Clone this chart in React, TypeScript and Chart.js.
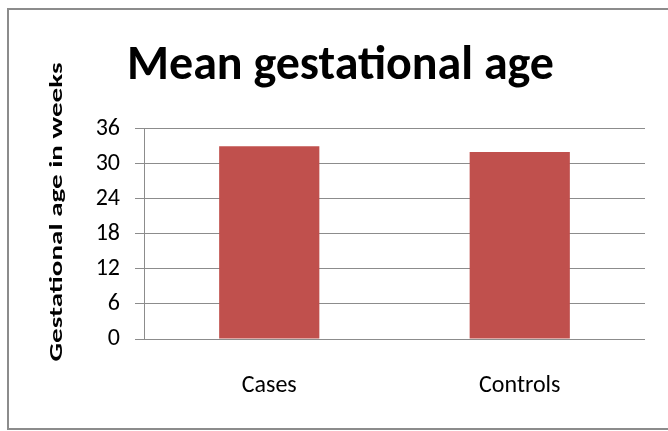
import React, { useEffect, useRef } from "react";
import { Chart, registerables } from "chart.js";

Chart.register(...registerables);

const categories = ["Cases", "Controls"];
const meanWeeks = [33, 32];
const yTicks = [0, 6, 12, 18, 24, 30, 36];
const chartTitle = "Mean gestational age";
const yAxisTitle = "Gestational age in weeks";

const FONT = "Carlito, Calibri, Lato, sans-serif";

const framePlugin = {
  id: "frame",
  beforeDraw(chart: any) {
    const ctx = chart.ctx;
    ctx.save();
    ctx.fillStyle = "#ffffff";
    ctx.fillRect(0, 0, chart.width, chart.height);
    ctx.strokeStyle = "#8c8c8c";
    ctx.lineWidth = 2;
    ctx.beginPath();
    ctx.moveTo(668, 9);
    ctx.lineTo(8, 9);
    ctx.lineTo(8, 429);
    ctx.lineTo(668, 429);
    ctx.stroke();
    ctx.restore();
  },
};

const yTitlePlugin = {
  id: "yTitle",
  afterDraw(chart: any) {
    const ctx = chart.ctx;
    ctx.save();
    ctx.font = `bold 19px ${FONT}`;
    const w = ctx.measureText(yAxisTitle).width || 1;
    ctx.translate(57, 212);
    ctx.rotate(-Math.PI / 2);
    ctx.scale(299 / w, 1);
    ctx.fillStyle = "#000000";
    ctx.textAlign = "center";
    ctx.textBaseline = "middle";
    ctx.fillText(yAxisTitle, 0, 0);
    ctx.restore();
  },
};

export default function App() {
  const ref = useRef<HTMLCanvasElement | null>(null);

  useEffect(() => {
    if (!ref.current) return;
    const chart = new Chart(ref.current, {
      type: "bar",
      data: {
        labels: categories,
        datasets: [
          {
            label: "Mean gestational age",
            data: meanWeeks,
            backgroundColor: "#C0504D",
            borderWidth: 0,
            categoryPercentage: 1,
            barPercentage: 0.4,
          },
        ],
      },
      options: {
        animation: false,
        responsive: false,
        devicePixelRatio: 1,
        layout: { padding: { left: 36, right: 23, top: 0, bottom: 0 } },
        plugins: {
          legend: { display: false },
          tooltip: { enabled: false },
          title: {
            display: true,
            text: chartTitle,
            color: "#000000",
            font: { family: FONT, size: 48, weight: "bold" },
            padding: { top: 38, bottom: 33 },
          },
        },
        scales: {
          x: {
            grid: { display: false, drawTicks: false },
            border: { display: false },
            ticks: {
              color: "#000000",
              font: { family: FONT, size: 24 },
              padding: 33,
            },
            afterFit(scale: any) {
              scale.height = 92;
            },
          },
          y: {
            min: 0,
            max: 36,
            afterBuildTicks(scale: any) {
              scale.ticks = yTicks.map((v) => ({ value: v }));
            },
            grid: {
              color: "#8c8c8c",
              lineWidth: 1,
              tickLength: 9,
              drawTicks: true,
            },
            border: { display: true, color: "#8c8c8c", width: 1 },
            ticks: {
              color: "#000000",
              font: { family: FONT, size: 24 },
              padding: 15,
            },
            afterFit(scale: any) {
              scale.width = 108;
            },
          },
        },
      },
      plugins: [framePlugin, yTitlePlugin],
    });
    return () => chart.destroy();
  }, []);

  return (
    <div style={{ position: "fixed", left: 0, top: 0, width: 668, height: 431, background: "#fff" }}>
      <canvas ref={ref} width={668} height={431} style={{ width: 668, height: 431 }} />
    </div>
  );
}
